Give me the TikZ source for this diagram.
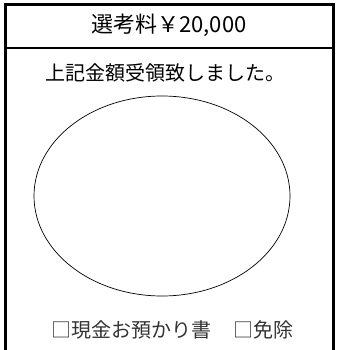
\documentclass[tikz,border=0pt]{standalone}
\usepackage{fontspec}
\setmainfont{Noto Sans CJK JP}
\usepackage{tikz}
\usetikzlibrary{shapes.geometric}

\begin{document}
\begin{tikzpicture}[x=1pt, y=-1pt, frame/.style = {draw, line width=2.4pt}, label/.style = {inner sep=0pt, font=\fontsize{20}{24}\selectfont}]
	\useasboundingbox (0,0) rectangle (338,350);
	\draw[frame] (5.5,352) -- (5.5,4.5) -- (333.5,4.5) -- (333.5,352);
	\draw[frame] (5.5,48) -- (333.5,48);
	\node[label, font=\fontsize{22}{26}\selectfont] (title) at (169,25) {選考料￥20,000};
	\node[label] (receipt) at (165,73) {上記金額受領致しました。};
	\node[draw, ellipse, line width=0.7pt, inner sep=0pt, minimum width=256pt, minimum height=200pt] (stamp) at (162,196) {};
	\node[label, text=black!80] (options) at (172,330) {□現金お預かり書\hspace{1.1em}□免除};
\end{tikzpicture}
\end{document}
